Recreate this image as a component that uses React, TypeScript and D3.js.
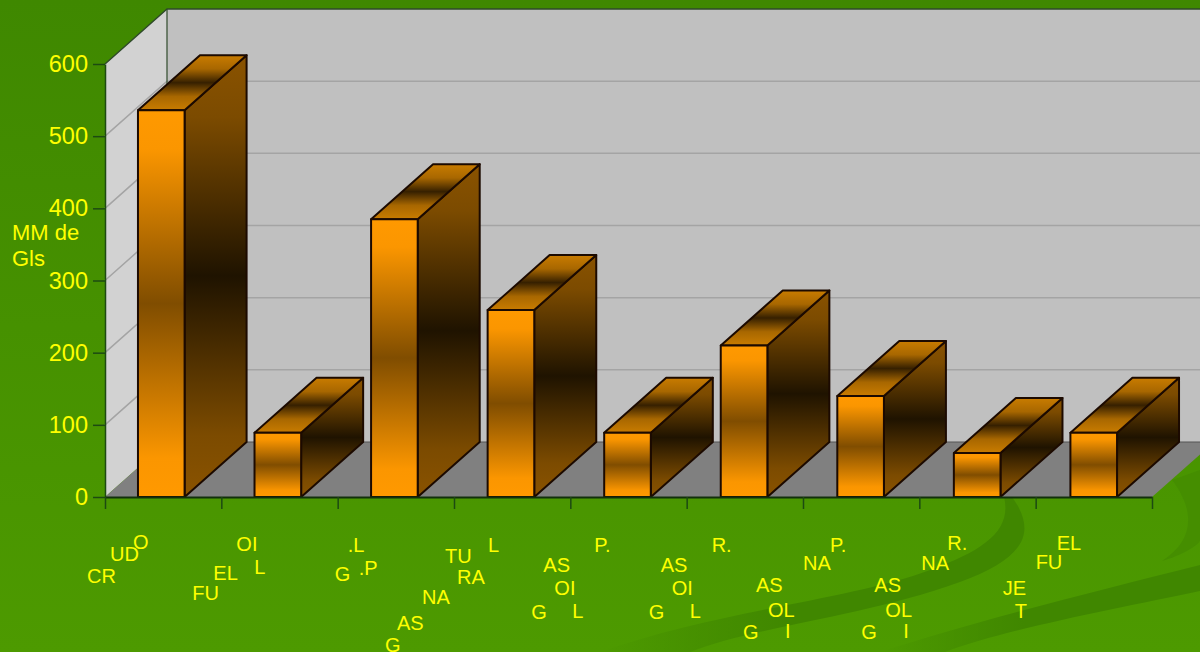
import React, { useEffect, useRef } from 'react';
import * as d3 from 'd3';

const categories = ["CRUDO", "FUEL OIL", "G.L.P.", "GAS NATURAL", "GASOIL P.", "GASOIL R.", "GASOLINA P.", "GASOLINA R.", "JET FUEL"];
const values = [536, 89, 385, 259, 89, 210, 140, 61, 89];
const yTicks = [0, 100, 200, 300, 400, 500, 600];
const yTitle = ["MM de", "Gls"];

// the category labels come apart into scattered pieces in the picture
const labelPieces = [
  ["O", "UD", "CR"],
  ["OI", "L", "EL", "FU"],
  [".L", "G", ".P"],
  ["L", "TU", "RA", "NA", "AS", "G"],
  ["AS", "OI", "G", "L", "P."],
  ["AS", "OI", "G", "L", "R."],
  ["AS", "OL", "G", "I", "NA", "P."],
  ["AS", "OL", "G", "I", "NA", "R."],
  ["JE", "T", "FU", "EL"],
];

// where each piece goes: [dx from the category's left tick, baseline y]
const labelPlaces = [
  [[28, 549], [5, 561], [-18, 583]],
  [[15, 551], [33, 574], [-8, 580], [-29, 600]],
  [[10, 552], [-3, 581], [21, 575]],
  [[34, 552], [-9, 563], [3, 584], [-32, 604], [-57, 630], [-69, 652]],
  [[-27, 572], [-16, 595], [-39, 619], [2, 618], [24, 552]],
  [[-26, 572], [-15, 595], [-38, 619], [3, 618], [25, 552]],
  [[-47, 592], [-35, 617], [-60, 639], [-18, 638], [0, 570], [27, 552]],
  [[-45, 592], [-34, 617], [-58, 639], [-16, 638], [2, 570], [28, 550]],
  [[-33, 595], [-21, 618], [0, 569], [21, 550]],
];

const width = 1200;
const height = 652;
const depthX = 62;
const depthY = -55;

const swooshes = [
  "M600,652 C720,610 850,600 930,570 C985,550 1012,530 1004,497 L1012,497 C1040,535 1020,560 960,582 C860,618 760,625 690,652 Z",
  "M880,652 C980,620 1100,590 1200,565 L1200,591 C1120,608 1010,628 945,652 Z",
  "M1172,480 C1195,510 1195,540 1162,561 C1180,556 1200,545 1200,540 L1200,470 Z",
];

export default function App() {
  const ref = useRef<SVGSVGElement>(null);

  useEffect(() => {
    const svg = d3.select(ref.current);
    svg.selectAll("*").remove();

    const x = d3.scaleBand().domain(categories).range([103, 1152]).paddingInner(0.6).paddingOuter(0.3);
    const y = d3.scaleLinear().domain([0, 600]).range([497, 64]);
    const tickX = d3.scaleLinear().domain([0, categories.length]).range([105, 1152]);
    const floorY = y(0);
    const topY = y(600);

    const defs = svg.append("defs");
    const addGradient = (id: string, stops: [number, string][]) => {
      const g = defs.append("linearGradient").attr("id", id).attr("x1", 0).attr("y1", 0).attr("x2", 0).attr("y2", 1);
      stops.forEach(s => g.append("stop").attr("offset", s[0]).attr("stop-color", s[1]));
    };
    addGradient("bg", [[0, "#3f8800"], [1, "#4d9a00"]]);
    addGradient("front", [[0, "#ff9900"], [0.1, "#fb9600"], [0.5, "#804d00"], [0.9, "#fb9600"], [1, "#ff9900"]]);
    addGradient("side", [[0, "#8a5300"], [0.14, "#7c4b00"], [0.5, "#1f1300"], [0.86, "#7c4b00"], [1, "#8a5300"]]);
    addGradient("top", [[0, "#c97c00"], [0.25, "#a86700"], [0.5, "#362000"], [0.75, "#a86700"], [1, "#c97c00"]]);

    const fade = defs.append("linearGradient").attr("id", "swoosh");
    fade.append("stop").attr("offset", 0).attr("stop-color", "#408700").attr("stop-opacity", 0);
    fade.append("stop").attr("offset", 0.45).attr("stop-color", "#408700").attr("stop-opacity", 1);

    svg.append("rect").attr("width", width).attr("height", height).attr("fill", "url(#bg)");
    svg.selectAll("path.swoosh").data(swooshes).join("path")
      .attr("class", "swoosh").attr("d", d => d).attr("fill", (d, i) => i === 2 ? "#458e00" : "url(#swoosh)");

    const point = (p: number[]) => p.join(",");
    const x0 = tickX(0);
    const x1 = tickX(categories.length);

    // walls and floor
    svg.append("polygon")
      .attr("points", [[x0, floorY], [x0 + depthX, floorY + depthY], [x0 + depthX, topY + depthY], [x0, topY]].map(point).join(" "))
      .attr("fill", "#d2d2d2");
    svg.append("polygon")
      .attr("points", [[x0 + depthX, floorY + depthY], [x1 + depthX, floorY + depthY], [x1 + depthX, topY + depthY], [x0 + depthX, topY + depthY]].map(point).join(" "))
      .attr("fill", "#c0c0c0");
    svg.append("polygon")
      .attr("points", [[x0, floorY], [x1, floorY], [x1 + depthX, floorY + depthY], [x0 + depthX, floorY + depthY]].map(point).join(" "))
      .attr("fill", "#808080");

    yTicks.filter(t => t > 0 && t < 600).forEach(t => {
      svg.append("path")
        .attr("d", `M${x0},${y(t)} L${x0 + depthX},${y(t) + depthY} L${x1 + depthX},${y(t) + depthY}`)
        .attr("fill", "none").attr("stroke", "#a4a4a4").attr("stroke-width", 1.5);
    });
    svg.append("path")
      .attr("d", `M${x0},${topY} L${x0 + depthX},${topY + depthY} L${x1 + depthX},${topY + depthY}`)
      .attr("fill", "none").attr("stroke", "#2f4a2a").attr("stroke-width", 1.4);
    svg.append("line")
      .attr("x1", x0 + depthX).attr("x2", x0 + depthX).attr("y1", topY + depthY).attr("y2", floorY + depthY)
      .attr("stroke", "#2f4a2a").attr("stroke-width", 1.2);
    svg.append("line")
      .attr("x1", x0 + depthX).attr("x2", x1 + depthX).attr("y1", floorY + depthY).attr("y2", floorY + depthY)
      .attr("stroke", "#555").attr("stroke-width", 1);

    // bars
    const bars = svg.selectAll("g.bar").data(categories).join("g").attr("class", "bar");
    bars.each(function (d, i) {
      const g = d3.select(this);
      const left = x(d) as number;
      const right = left + x.bandwidth();
      const top = y(values[i]);
      g.append("polygon")
        .attr("points", [[right, top], [right + depthX, top + depthY], [right + depthX, floorY + depthY], [right, floorY]].map(point).join(" "))
        .attr("fill", "url(#side)");
      g.append("polygon")
        .attr("points", [[left, top], [left + depthX, top + depthY], [right + depthX, top + depthY], [right, top]].map(point).join(" "))
        .attr("fill", "url(#top)");
      g.append("rect")
        .attr("x", left).attr("y", top).attr("width", x.bandwidth()).attr("height", floorY - top)
        .attr("fill", "url(#front)");
      g.selectAll("polygon,rect")
        .attr("stroke", "#1c0a00").attr("stroke-width", 2).attr("stroke-linejoin", "round");
    });

    // axes
    const yAxis = svg.append("g").attr("transform", `translate(${x0},0)`)
      .call(d3.axisLeft(y).tickValues(yTicks).tickSize(12).tickPadding(5).tickSizeOuter(0));
    const xAxis = svg.append("g").attr("transform", `translate(0,${floorY})`)
      .call(d3.axisBottom(tickX).ticks(categories.length).tickSize(12).tickSizeOuter(0).tickFormat(() => ""));
    [yAxis, xAxis].forEach(a => {
      a.selectAll("path,line").attr("stroke", "#1d4a12").attr("stroke-width", 1.5);
    });
    xAxis.select("path").attr("stroke", "#12300c").attr("stroke-width", 2);
    yAxis.selectAll("text")
      .attr("fill", "#ffff00")
      .style("font-family", "'Liberation Sans', Arial, sans-serif")
      .style("font-size", "23.5px");

    const textFont = "'Liberation Sans', Arial, sans-serif";
    svg.selectAll("text.ytitle").data(yTitle).join("text")
      .attr("class", "ytitle")
      .attr("x", 12)
      .attr("y", (d, i) => 240 + i * 26)
      .attr("fill", "#ffff00")
      .style("font-family", textFont)
      .style("font-size", "22px")
      .text(d => d);

    labelPieces.forEach((pieces, i) => {
      pieces.forEach((piece, j) => {
        const place = labelPlaces[i][j];
        svg.append("text")
          .attr("x", tickX(i) + place[0])
          .attr("y", place[1])
          .attr("fill", "#ffff00")
          .style("font-family", textFont)
          .style("font-size", "20px")
          .text(piece);
      });
    });
  }, []);

  return <svg ref={ref} width={width} height={height} style={{ position: "absolute", left: 0, top: 0, display: "block" }} />;
}
